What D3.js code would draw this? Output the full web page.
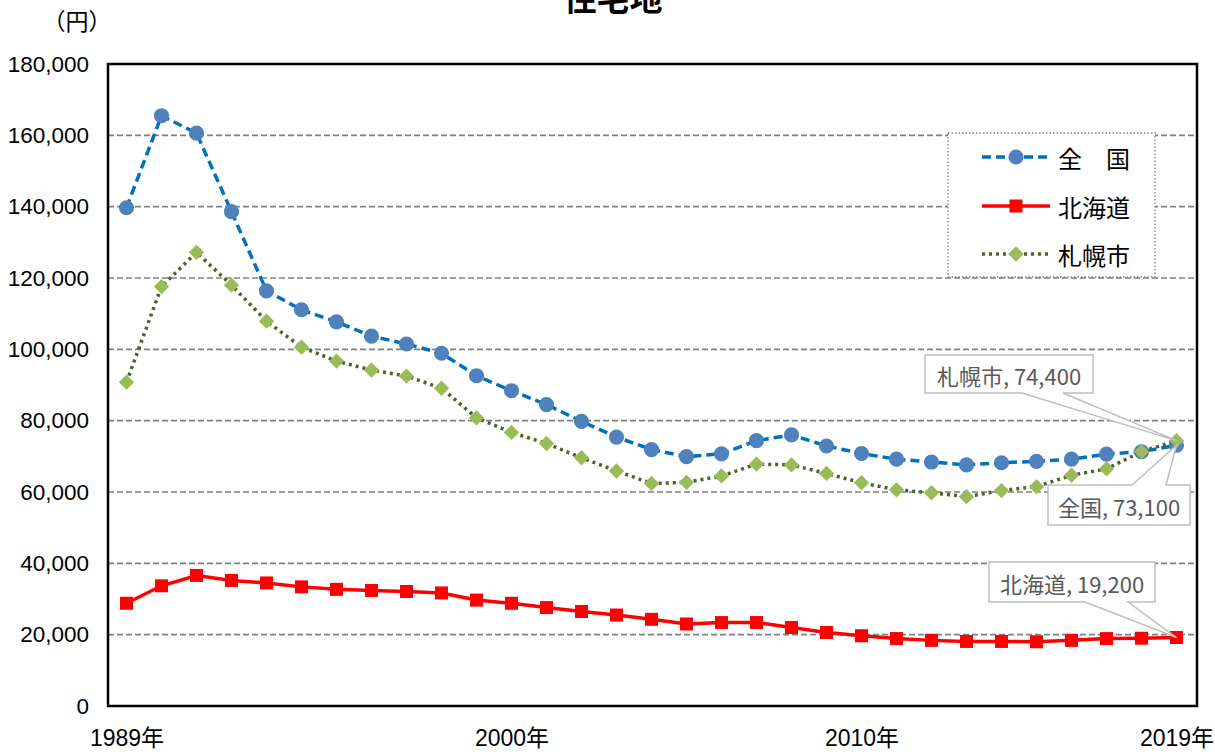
<!DOCTYPE html>
<html>
<head>
<meta charset="utf-8">
<script src="https://cdn.jsdelivr.net/npm/d3@7"></script>
<style>
  html, body { margin: 0; padding: 0; background: #fff; }
  svg { display: block; }
  .narrow { font-family: "Liberation Sans Narrow", "Arial Narrow", "Liberation Sans", "Noto Sans CJK JP", sans-serif; }
  .jp { font-family: "Noto Sans CJK JP", "Noto Sans", sans-serif; }
</style>
</head>
<body>
<svg id="chart" width="1215" height="756"></svg>
<script>
// ---- data ----
const years = d3.range(1989, 2020);
const seriesNames = ["全　国", "北海道", "札幌市"];
const zenkoku = [139700, 165500, 160600, 138600, 116400, 111100, 107700, 103700, 101500, 98900,
                 92600, 88400, 84500, 79800, 75400, 71900, 69900, 70700, 74400, 76000,
                 72900, 70800, 69200, 68400, 67600, 68200, 68600, 69200, 70600, 71300, 73100];
const hokkaido = [28800, 33700, 36600, 35200, 34500, 33400, 32700, 32400, 32100, 31700,
                  29700, 28800, 27600, 26500, 25500, 24300, 23000, 23400, 23400, 22000,
                  20600, 19700, 18900, 18400, 18100, 18100, 18000, 18400, 18900, 19000, 19200];
const sapporo = [90800, 117600, 127200, 118000, 107900, 100600, 96700, 94200, 92500, 89100,
                 80800, 76700, 73600, 69600, 65900, 62400, 62700, 64500, 67800, 67600,
                 65200, 62600, 60600, 59800, 58700, 60400, 61500, 64700, 66500, 71300, 74400];
const yTicks = [0, 20000, 40000, 60000, 80000, 100000, 120000, 140000, 160000, 180000];
const xTickYears = [1989, 2000, 2010, 2019];
const callouts = [
  { name: "札幌市", value: 74400, series: 2 },
  { name: "全国", value: 73100, series: 0 },
  { name: "北海道", value: 19200, series: 1 }
];

// ---- layout ----
const svg = d3.select("#chart");
const plot = { left: 108, right: 1197, top: 64, bottom: 706 };
const x = d3.scaleLinear().domain([1989, 2019]).range([126.5, 1176.5]);
const y = d3.scaleLinear().domain([0, 180000]).range([plot.bottom, plot.top]);

// title
svg.append("text").attr("class", "jp").attr("x", 613).attr("y", 11)
  .attr("text-anchor", "middle").attr("font-size", 33).attr("font-weight", "bold")
  .attr("fill", "#000").text("住宅地");
svg.append("text").attr("class", "jp").attr("x", 77).attr("y", 30)
  .attr("text-anchor", "middle").attr("font-size", 23).attr("fill", "#000").text("（円）");

// gridlines
svg.append("g").selectAll("line")
  .data(yTicks.filter(t => t > 0 && t < 180000)).join("line")
  .attr("x1", plot.left).attr("x2", plot.right)
  .attr("y1", d => y(d)).attr("y2", d => y(d))
  .attr("stroke", "#808080").attr("stroke-width", 1.6).attr("stroke-dasharray", "6,3");

// y axis labels
const yAxis = d3.axisLeft(y).tickValues(yTicks).tickSize(0).tickPadding(0)
  .tickFormat(d3.format(","));
const gy = svg.append("g").attr("transform", `translate(89,0)`).call(yAxis);
gy.select(".domain").remove();
gy.selectAll("text").attr("class", "narrow").attr("font-size", 22.5).attr("fill", "#000");

// x axis labels
const xAxis = d3.axisBottom(x).tickValues(xTickYears).tickSize(0).tickPadding(0)
  .tickFormat(d => d + "年");
const gx = svg.append("g").attr("transform", `translate(0,730)`).call(xAxis);
gx.select(".domain").remove();
gx.selectAll("text").attr("class", "narrow").attr("font-size", 23).attr("fill", "#000");

// frame
svg.append("rect").attr("x", plot.left).attr("y", plot.top)
  .attr("width", plot.right - plot.left).attr("height", plot.bottom - plot.top)
  .attr("fill", "none").attr("stroke", "#000").attr("stroke-width", 2.5);

// series
const line = d3.line().x((d, i) => x(years[i])).y(d => y(d));
const styles = [
  { data: zenkoku, stroke: "#0070c0", dash: "9,5", fill: "#4f81bd", marker: d3.symbolCircle, size: 180 },
  { data: hokkaido, stroke: "#ff0000", dash: null, fill: "#ff0000", marker: d3.symbolSquare, size: 169 },
  { data: sapporo, stroke: "#4f6228", dash: "3,4", fill: "#9bbb59", marker: d3.symbolDiamond2 || d3.symbolDiamond, size: 150 }
];
styles.forEach(s => {
  const g = svg.append("g");
  g.append("path").attr("d", line(s.data)).attr("fill", "none")
    .attr("stroke", s.stroke).attr("stroke-width", 3.5)
    .attr("stroke-dasharray", s.dash);
  g.selectAll("path.m").data(s.data).join("path").attr("class", "m")
    .attr("transform", (d, i) => `translate(${x(years[i])},${y(d)})`)
    .attr("d", d3.symbol().type(s.marker).size(s.size))
    .attr("fill", s.fill);
});

// legend
const lg = svg.append("g");
lg.append("rect").attr("x", 948).attr("y", 133).attr("width", 207).attr("height", 144)
  .attr("fill", "#fff").attr("stroke", "#808080").attr("stroke-width", 1.3)
  .attr("stroke-dasharray", "1.5,2");
const legY = [157, 206, 254];
styles.forEach((s, i) => {
  lg.append("line").attr("x1", 982).attr("x2", 1050).attr("y1", legY[i]).attr("y2", legY[i])
    .attr("stroke", s.stroke).attr("stroke-width", 3.5).attr("stroke-dasharray", s.dash);
  lg.append("path").attr("transform", `translate(1016,${legY[i]})`)
    .attr("d", d3.symbol().type(s.marker).size(s.size)).attr("fill", s.fill);
  lg.append("text").attr("class", "jp").attr("x", 1058).attr("y", legY[i])
    .attr("dominant-baseline", "central").attr("font-size", 24).attr("fill", "#000")
    .text(seriesNames[i]);
});

// callouts
const boxes = [
  { x0: 925, x1: 1093, y0: 355, y1: 393, w0: 1022, w1: 1063, side: "bottom" },
  { x0: 1048, x1: 1190, y0: 485, y1: 525, w0: 1132, w1: 1166, side: "top" },
  { x0: 989, x1: 1155, y0: 562, y1: 602, w0: 1085, w1: 1128, side: "bottom" }
];
const fmt = d3.format(",");
callouts.forEach((c, i) => {
  const b = boxes[i];
  const px = x(2019), py = y(styles[c.series].data[30]);
  let d;
  if (b.side === "bottom") {
    d = `M${b.x0},${b.y0}H${b.x1}V${b.y1}H${b.w1}L${px},${py}L${b.w0},${b.y1}H${b.x0}Z`;
  } else {
    d = `M${b.x0},${b.y0}H${b.w0}L${px},${py}L${b.w1},${b.y0}H${b.x1}V${b.y1}H${b.x0}Z`;
  }
  svg.append("path").attr("d", d).attr("fill", "#fff").attr("fill-opacity", 1)
    .attr("stroke", "#bfbfbf").attr("stroke-width", 1.5);
  svg.append("text").attr("class", "jp").attr("x", (b.x0 + b.x1) / 2).attr("y", (b.y0 + b.y1) / 2 + 1)
    .attr("text-anchor", "middle").attr("dominant-baseline", "central")
    .attr("font-size", 22).attr("fill", "#595959")
    .text(`${c.name}, ${fmt(c.value)}`);
});
</script>
</body>
</html>
